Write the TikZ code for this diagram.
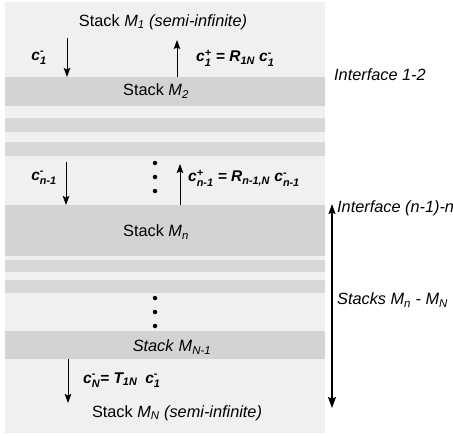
\documentclass[tikz,border=0pt]{standalone}
\usepackage{amsmath}
\usepackage{fontspec}
\setmainfont{Liberation Sans}
\usetikzlibrary{arrows.meta}
\definecolor{bgl}{RGB}{240,240,240}
\definecolor{band}{RGB}{211,211,211}
\definecolor{strip}{RGB}{216,216,216}
\newcommand\vr[3]{\textit{#1}$^{\textit{#2}}_{\textit{#3}}$}
\newcommand\vs[2]{\textit{#1}$_{\textit{#2}}$}
\begin{document}
\begin{tikzpicture}[x=1pt,y=-1pt,
  lbl/.style={font=\fontsize{16.3}{19}\selectfont, inner sep=0pt},
  eq/.style={font=\fontsize{15.5}{18}\selectfont\bfseries\itshape, inner sep=0pt},
  flux/.style={line width=0.9pt, -{Stealth[length=9pt,width=6.5pt,inset=1.5pt]}},
  span/.style={line width=1.2pt, {Stealth[length=10pt,width=7pt,inset=1.5pt]}-{Stealth[length=11pt,width=8pt,inset=1.5pt]}},
  dot/.style={circle, fill=black, inner sep=0pt, minimum size=4.5pt}]
\useasboundingbox (0,0) rectangle (453,436);
% layers
\fill[bgl] (5,2) rectangle (325,433);
\fill[band] (5,77) rectangle (325,106);
\fill[strip] (5,118) rectangle (325,132);
\fill[strip] (5,142) rectangle (325,156);
\fill[band] (5,205) rectangle (325,256);
\fill[strip] (5,260) rectangle (325,272);
\fill[strip] (5,280) rectangle (325,293);
\fill[band] (5,331) rectangle (325,359);
% texts
\node[lbl] (m1) at (163,22) {Stack \vs{M}{1} \textit{(semi-infinite)}};
\node[eq] (c1m) at (39,58) {\vr{c}{-}{1}};
\node[eq, anchor=west] (c1p) at (196,58) {\vr{c}{+}{1} = \vs{R}{1N} \vr{c}{-}{1}};
\node[lbl] (m2) at (156,91) {Stack \vs{M}{2}};
\node[lbl, anchor=west] (if12) at (334,75) {\textit{Interface 1-2}};
\node[eq] (cnm) at (44,178) {\vr{c}{-}{n-1}};
\node[eq, anchor=west] (cnp) at (188,178) {\vr{c}{+}{n-1} = \vs{R}{n-1,N} \vr{c}{-}{n-1}};
\node[lbl, anchor=west] (ifn) at (337,208) {\textit{Interface (n-1)-n}};
\node[lbl] (mn) at (156,232) {Stack \vs{M}{n}};
\node[lbl, anchor=west] (stk) at (337,300) {\textit{Stacks }\vs{M}{n}\textit{ - }\vs{M}{N}};
\node[lbl] (mN1) at (172,347) {\textit{Stack }\vs{M}{N-1}};
\node[eq, anchor=west] (cN) at (83,380) {\vr{c}{-}{N}= \vs{T}{1N}\hspace{8pt}\vr{c}{-}{1}};
\node[lbl] (mN) at (177,413) {Stack \vs{M}{N} \textit{(semi-infinite)}};
% dots
\node[dot] (d1) at (155,163) {};
\node[dot] (d2) at (155,177) {};
\node[dot] (d3) at (155,191) {};
\node[dot] (d4) at (155,298) {};
\node[dot] (d5) at (155,312) {};
\node[dot] (d6) at (155,326) {};
% arrow ends
\coordinate (a1s) at (67,38);  \coordinate (a1e) at (67,77);
\coordinate (a2s) at (177,77); \coordinate (a2e) at (177,40);
\coordinate (a3s) at (66,162); \coordinate (a3e) at (66,205);
\coordinate (a4s) at (180,205);\coordinate (a4e) at (180,164);
\coordinate (a5s) at (68,359); \coordinate (a5e) at (68,403);
\coordinate (vt) at (332,204); \coordinate (vb) at (332,408);
\draw[flux] (a1s) -- (a1e);
\draw[flux] (a2s) -- (a2e);
\draw[flux] (a3s) -- (a3e);
\draw[flux] (a4s) -- (a4e);
\draw[flux] (a5s) -- (a5e);
\draw[span] (vt) -- (vb);
\end{tikzpicture}
\end{document}
